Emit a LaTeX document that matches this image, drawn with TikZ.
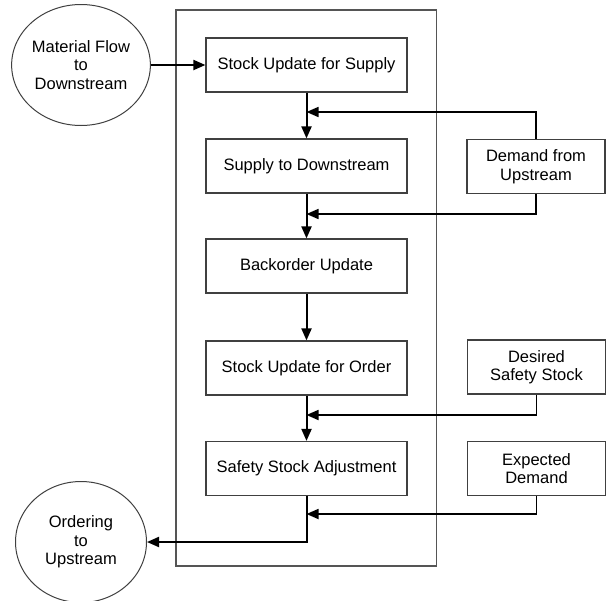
\documentclass[tikz,border=0pt]{standalone}
\usepackage{fontspec}
\setmainfont{Liberation Sans}
\usetikzlibrary{arrows.meta,shapes.geometric}
\definecolor{edgegray}{HTML}{404040}
\definecolor{framegray}{HTML}{555555}
\begin{document}
\begin{tikzpicture}[x=1pt,y=-1pt,
  every node/.style={font=\fontsize{16.5}{18.5}\selectfont, align=center, inner sep=0pt},
  procbox/.style={draw=edgegray, line width=1.2pt, minimum width=201pt, minimum height=54pt},
  inbox/.style={draw=edgegray, line width=1.2pt, minimum width=138pt, minimum height=54pt},
  term/.style={ellipse, draw=edgegray, line width=1pt, minimum width=131pt, minimum height=121pt},
  flow/.style={draw=black, line width=2pt, -{Triangle[length=12pt,width=10pt]}},
  feed/.style={draw=black, line width=1.7pt, -{Triangle[length=12pt,width=10pt]}}]
\useasboundingbox (0,0) rectangle (607,600);

% enclosing frame of the stock point
\draw[framegray, line width=1.2pt] (176,10) rectangle (436.5,566);

% external terminals
\node[term] (mat) at (81,65) {Material Flow\\to\\Downstream};
\node[term] (ord) at (81,542) {Ordering\\to\\Upstream};

% process steps
\node[procbox] (b1) at (306.5,65)  {Stock Update for Supply};
\node[procbox] (b2) at (306.5,166) {Supply to Downstream};
\node[procbox] (b3) at (306.5,266) {Backorder Update};
\node[procbox] (b4) at (306.5,368) {Stock Update for Order};
\node[procbox] (b5) at (306.5,468.5) {Safety Stock Adjustment};

% side inputs
\node[inbox] (dem) at (536,166.5) {Demand from\\Upstream};
\node[inbox] (des) at (536.5,367) {Desired\\Safety Stock};
\node[inbox] (exp) at (536.5,468.5) {Expected\\Demand};

% junctions on the main flow line
\coordinate (j1) at (306.5,112);
\coordinate (j2) at (306.5,214);
\coordinate (j3) at (306.5,415);
\coordinate (j4) at (306.5,514);

% main flow
\draw[flow] (mat.east) -- (b1.west);
\draw[flow] (b1.south) -- (b2.north);
\draw[flow] (b2.south) -- (b3.north);
\draw[flow] (b3.south) -- (b4.north);
\draw[flow] (b4.south) -- (b5.north);
\draw[flow] (b5.south) |- (ord.east);

% side inputs joining the flow
\draw[feed] (dem.north) |- (j1);
\draw[feed] (dem.south) |- (j2);
\draw[feed] (des.south) |- (j3);
\draw[feed] (exp.south) |- (j4);
\end{tikzpicture}
\end{document}
